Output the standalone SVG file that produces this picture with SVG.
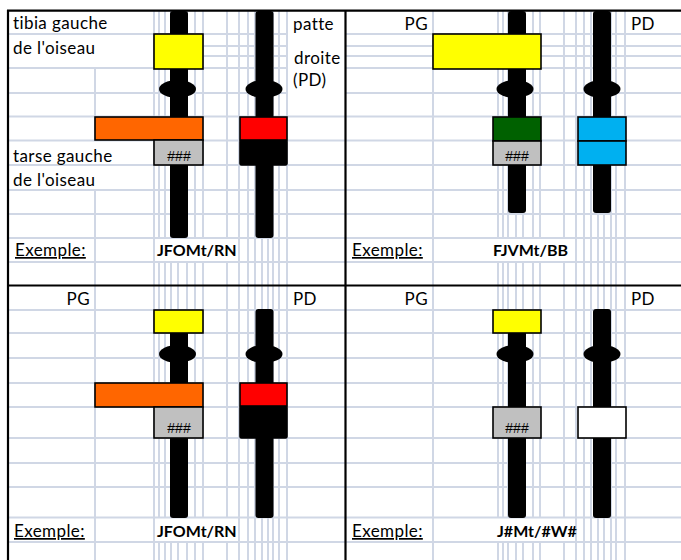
<svg xmlns="http://www.w3.org/2000/svg" width="681" height="560" viewBox="0 0 681 560">
<style>
.grid{stroke:#d0d7e5;stroke-width:2;fill:none}
.border{stroke:#000;stroke-width:2.2;fill:none}
.leg{fill:#000}
.box{stroke:#000;stroke-width:1.6}
.t{font-family:Lato,"Liberation Sans",sans-serif;font-size:17px;letter-spacing:0.4px;fill:#000}
.b{font-family:Lato,"Liberation Sans",sans-serif;font-size:16px;font-weight:bold;fill:#000}
.h{font-family:"Liberation Sans",sans-serif;font-size:14px;fill:#000;text-anchor:middle}
.u{text-decoration:underline}
.e{text-anchor:end}
</style>
<rect width="681" height="560" fill="#fff"/>
<g id="grid">
<path class="grid" d="M8 34H287M346 34H681M8 68H287M346 68H681M8 93H287M346 93H681M203 46H287M346 46H681M203 56H287M346 56H681M8 116.5H681M8 140.5H681M8 165H681M8 190H681M8 214H681M8 238H681M8 262H681M8 310H681M8 333H681M8 358H681M8 383H681M8 407H681M8 438H681M8 463H681M8 487H681M8 517.5H681M8 542H681"/>
<path class="grid" d="M95 68V140M95 190V560M154 11V560M433 11V560M239 11V560M248 11V560M255 11V560M262 11V560M268 11V560M273 11V560M279 11V560M287 11V560M576 11V560M584 11V560M591 11V560M598 11V560M604 11V560M611 11V560M616 11V560M625 11V560M159 11V238M159 262V518M159 542V560M165 11V238M165 262V518M165 542V560M171 11V238M171 262V518M171 542V560M178 11V238M178 262V518M178 542V560M187 11V238M187 262V518M187 542V560M195 11V238M195 262V518M195 542V560M203 11V238M203 262V518M203 542V560M227 11V238M227 262V518M227 542V560M498 11V238M498 262V518M498 542V560M503 11V238M503 262V518M503 542V560M508 11V238M508 262V518M508 542V560M516 11V238M516 262V518M516 542V560M523 11V238M523 262V518M523 542V560M533 11V238M533 262V518M533 542V560M540 11V238M540 262V518M540 542V560M564 11V238M564 262V518M564 542V560"/>
</g>
<g id="borders">
<path class="border" d="M7 10.7H681M8 10V560M345.5 10V560M7 285.5H681"/>
</g>
<g id="connectors"></g>
<g id="panel-top-left">
<rect class="leg" x="170" y="11" width="18" height="227" rx="3"/>
<rect class="leg" x="255.5" y="11" width="18" height="227" rx="3"/>
<ellipse class="leg" cx="177.5" cy="89" rx="18.5" ry="9"/>
<ellipse class="leg" cx="264" cy="89" rx="18.5" ry="9"/>
<rect class="box" x="154" y="34" width="49" height="35" fill="#ffff00"/>
<rect class="box" x="95" y="117" width="108" height="23" fill="#ff6600"/>
<rect class="box" x="154" y="140" width="49" height="25" fill="#c0c0c0"/>
<rect class="box" x="240" y="140" width="47" height="25" fill="#000" rx="1.5"/>
<rect class="box" x="240" y="117" width="47" height="23" fill="#ff0000"/>
<text class="h" x="179" y="161">###</text>
<text class="t" x="13" y="29">tibia gauche</text>
<text class="t" x="13" y="54">de l'oiseau</text>
<text class="t" x="293" y="30">patte</text>
<text class="t" x="294" y="64">droite</text>
<text class="t" x="293" y="86">(PD)</text>
<text class="t" x="13" y="162">tarse gauche</text>
<text class="t" x="13" y="186">de l'oiseau</text>
<text class="t u" x="15" y="256">Exemple:</text>
<text class="b" x="157" y="256">JFOMt/RN</text>
</g>
<g id="panel-top-right">
<rect class="leg" x="508" y="11" width="18" height="202" rx="3"/>
<rect class="leg" x="593" y="11" width="18" height="202" rx="3"/>
<ellipse class="leg" cx="515" cy="89" rx="18.5" ry="9"/>
<ellipse class="leg" cx="602" cy="89" rx="18.5" ry="9"/>
<rect class="box" x="433" y="34" width="108" height="35" fill="#ffff00"/>
<rect class="box" x="493" y="117" width="48" height="24" fill="#006100"/>
<rect class="box" x="493" y="141" width="48" height="24" fill="#c0c0c0"/>
<rect class="box" x="578" y="117" width="48" height="24" fill="#00b0f0"/>
<rect class="box" x="578" y="141" width="48" height="24" fill="#00b0f0"/>
<text class="h" x="517" y="161">###</text>
<text class="t e" x="428" y="30">PG</text>
<text class="t" x="631" y="30">PD</text>
<text class="t u" x="352" y="256">Exemple:</text>
<text class="b" x="493" y="256">FJVMt/BB</text>
</g>
<g id="panel-bottom-left">
<rect class="leg" x="170" y="312" width="18" height="206" rx="3"/>
<rect class="leg" x="255.5" y="309" width="18" height="209" rx="3"/>
<ellipse class="leg" cx="177.5" cy="354" rx="18.5" ry="9"/>
<ellipse class="leg" cx="264" cy="354" rx="18.5" ry="9"/>
<rect class="box" x="154" y="310" width="49" height="23" fill="#ffff00"/>
<rect class="box" x="95" y="383" width="108" height="24" fill="#ff6600"/>
<rect class="box" x="154" y="407" width="49" height="31" fill="#c0c0c0"/>
<rect class="box" x="240" y="406" width="47" height="32" fill="#000" rx="1.5"/>
<rect class="box" x="240" y="383" width="47" height="23" fill="#ff0000"/>
<text class="h" x="179" y="433">###</text>
<text class="t e" x="90" y="305">PG</text>
<text class="t" x="293" y="305">PD</text>
<text class="t u" x="14" y="537">Exemple:</text>
<text class="b" x="157" y="537">JFOMt/RN</text>
</g>
<g id="panel-bottom-right">
<rect class="leg" x="508" y="312" width="18" height="206" rx="3"/>
<rect class="leg" x="593" y="309" width="18" height="209" rx="3"/>
<ellipse class="leg" cx="515" cy="354" rx="18.5" ry="9"/>
<ellipse class="leg" cx="602" cy="354" rx="18.5" ry="9"/>
<rect class="box" x="493" y="310" width="48" height="23" fill="#ffff00"/>
<rect class="box" x="493" y="407" width="48" height="31" fill="#c0c0c0"/>
<rect class="box" x="578" y="407" width="48" height="31" fill="#ffffff"/>
<text class="h" x="517" y="433">###</text>
<text class="t e" x="428" y="305">PG</text>
<text class="t" x="631" y="305">PD</text>
<text class="t u" x="352" y="537">Exemple:</text>
<text class="b" x="497" y="537">J#Mt/#W#</text>
</g>
</svg>
